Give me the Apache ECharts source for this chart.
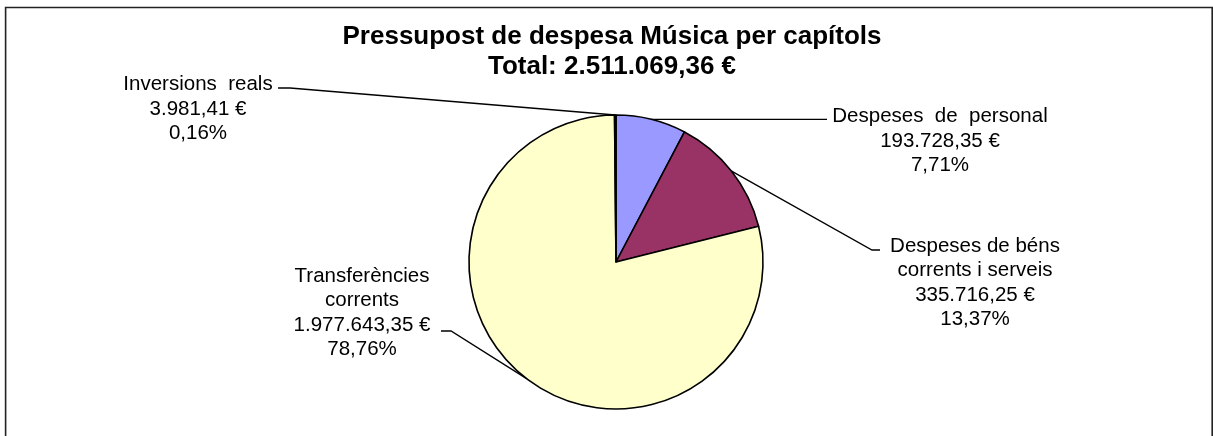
<!DOCTYPE html>
<html>
<head>
<meta charset="utf-8">
<script src="https://cdn.jsdelivr.net/npm/echarts@6/dist/echarts.min.js"></script>
<style>
html,body{margin:0;padding:0;background:#fff;}
#main{width:1213px;height:436px;}
</style>
</head>
<body>
<div id="main"></div>
<script>
// ---- data ----
const titleText = 'Pressupost de despesa Música per capítols';
const totalLabel = 'Total: 2.511.069,36 €';
const categories = ['Despeses  de  personal', 'Despeses de béns\ncorrents i serveis', 'Transferències\ncorrents', 'Inversions  reals'];
const values = [193728.35, 335716.25, 1977643.35, 3981.41];
const colors = ['#9999FF', '#993366', '#FFFFCC', '#CCFFFF'];

// ---- layout of labels (label centre, elbow, line end) ----
const labelPos = [
  {x: 940, y: 141, elbow: [827, null], end: [827, null]},
  {x: 975, y: 283, elbow: [872, 250], end: [880, 250]},
  {x: 362, y: 313, elbow: [451, 331], end: [441, 331]},
  {x: 198, y: 109, elbow: [290, 88], end: [278, 88]}
];

const total = values.reduce((a, b) => a + b, 0);
function fmt(v) {
  const parts = v.toFixed(2).split('.');
  return parts[0].replace(/\B(?=(\d{3})+(?!\d))/g, '.') + ',' + parts[1];
}
function pct(v) {
  return (v / total * 100).toFixed(2).replace('.', ',') + '%';
}

const chart = echarts.init(document.getElementById('main'), null, {renderer: 'canvas'});
const font = '"Liberation Sans", Arial, sans-serif';

chart.setOption({
  animation: false,
  backgroundColor: '#fff',
  title: {
    text: titleText + '\n' + totalLabel,
    left: 607,
    top: 17,
    textAlign: 'center',
    textStyle: {
      fontFamily: font,
      fontSize: 26,
      fontWeight: 'bold',
      color: '#000',
      lineHeight: 30
    }
  },
  graphic: [{
    type: 'rect',
    shape: {x: 5.6, y: 7.5, width: 1206.6, height: 460},
    style: {fill: 'none', stroke: '#222', lineWidth: 1.6},
    silent: true,
    z: 100
  }],
  series: [{
    type: 'pie',
    center: [616, 262],
    radius: 147,
    startAngle: 90,
    clockwise: true,
    avoidLabelOverlap: false,
    minAngle: 0,
    data: categories.map((c, i) => ({name: c, value: values[i], itemStyle: {color: colors[i]}})),
    itemStyle: {borderColor: '#000', borderWidth: 1.6},
    emphasis: {disabled: true},
    label: {
      show: true,
      position: 'outside',
      alignTo: 'none',
      fontFamily: font,
      fontSize: 20.5,
      lineHeight: 24.5,
      color: '#000',
      align: 'center',
      formatter: p => p.name + '\n' + fmt(p.value) + ' €\n' + pct(p.value)
    },
    labelLine: {
      show: true,
      length: 10,
      length2: 10,
      smooth: false,
      lineStyle: {color: '#000', width: 1.3}
    },
    labelLayout: function (params) {
      const lp = labelPos[params.dataIndex];
      const a = params.labelLinePoints ? params.labelLinePoints[0] : [0, 0];
      const el = [lp.elbow[0], lp.elbow[1] == null ? a[1] : lp.elbow[1]];
      const en = [lp.end[0], lp.end[1] == null ? a[1] : lp.end[1]];
      return {
        x: lp.x,
        y: lp.y,
        align: 'center',
        verticalAlign: 'middle',
        hideOverlap: false,
        moveOverlap: null,
        labelLinePoints: [a, el, en]
      };
    }
  }]
});
</script>
</body>
</html>
